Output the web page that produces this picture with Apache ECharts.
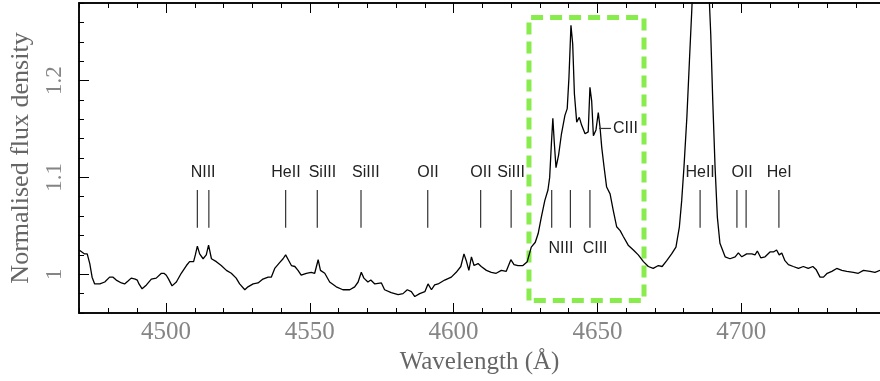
<!DOCTYPE html>
<html><head><meta charset="utf-8">
<script src="https://cdn.jsdelivr.net/npm/echarts@6/dist/echarts.min.js"></script>
<style>html,body{margin:0;padding:0;background:#fff}#c{width:880px;height:381px}</style>
</head><body><div id="c"></div>
<script>
const wavelength = [4469.8,4471.7,4472.6,4473.5,4474.3,4475.2,4475.8,4477.0,4478.7,4480.4,4481.6,4482.7,4484.5,4485.6,4486.8,4487.9,4489.3,4490.0,4490.6,4491.7,4493.2,4494.9,4496.6,4498.4,4499.3,4500.1,4500.9,4502.1,4503.6,4505.3,4507.1,4508.2,4509.6,4510.2,4510.9,4511.7,4512.9,4514.0,4514.8,4515.8,4517.5,4519.2,4521.0,4522.7,4524.4,4525.6,4527.4,4528.5,4530.3,4532.0,4533.7,4535.5,4536.6,4537.8,4539.5,4540.7,4541.6,4542.7,4543.6,4544.8,4545.9,4547.0,4548.8,4550.5,4551.7,4552.9,4553.7,4555.2,4556.9,4559.2,4561.5,4563.9,4565.6,4566.8,4567.9,4568.8,4570.2,4571.2,4572.6,4574.9,4576.0,4578.3,4580.7,4582.4,4583.9,4585.3,4586.5,4588.2,4590.0,4591.1,4592.3,4593.4,4594.6,4596.9,4599.2,4600.9,4602.5,4603.6,4604.4,4605.3,4606.2,4607.1,4608.5,4609.6,4611.4,4613.1,4614.8,4616.6,4618.3,4619.9,4621.0,4622.4,4624.1,4625.6,4627.0,4628.4,4629.4,4630.5,4631.7,4632.8,4633.4,4634.0,4634.5,4635.0,4635.6,4636.5,4637.5,4638.7,4639.5,4640.1,4640.8,4641.4,4642.0,4642.8,4643.7,4644.5,4645.7,4646.8,4647.4,4648.0,4648.6,4649.5,4650.3,4650.9,4651.5,4652.3,4653.2,4654.4,4655.5,4656.7,4657.9,4659.0,4660.7,4662.5,4664.2,4666.0,4667.7,4669.4,4671.2,4672.5,4674.1,4675.8,4677.3,4678.5,4679.3,4680.1,4681.1,4682.0,4682.8,4684.2,4685.7,4687.4,4688.9,4689.4,4690.1,4690.9,4691.7,4692.6,4694.4,4696.1,4697.9,4699.0,4700.2,4701.9,4703.7,4704.8,4705.6,4706.8,4708.3,4710.0,4711.2,4712.3,4713.2,4714.1,4715.2,4716.4,4718.1,4719.9,4721.6,4723.3,4724.9,4726.0,4727.4,4728.6,4729.9,4731.5,4733.2,4735.0,4736.7,4739.0,4740.7,4742.5,4744.8,4746.5,4748.3];
const flux = [1.025,1.021,1.021,1.011,0.997,0.990,0.988,0.990,0.992,0.997,0.997,0.994,0.991,0.990,0.993,0.996,0.995,0.994,0.990,0.985,0.989,0.995,0.996,1.001,1.001,0.999,0.995,0.988,0.992,1.001,1.009,1.013,1.013,1.020,1.029,1.021,1.016,1.020,1.030,1.016,1.013,1.009,1.004,1.001,0.996,0.990,0.984,0.987,0.990,0.991,0.995,0.997,0.997,1.006,1.012,1.016,1.020,1.014,1.009,1.008,1.004,0.999,1.001,1.002,1.001,1.015,1.004,1.001,0.992,0.987,0.984,0.984,0.987,0.992,1.002,0.996,0.992,0.994,0.990,0.991,0.984,0.981,0.979,0.980,0.984,0.982,0.977,0.980,0.982,0.990,0.984,0.989,0.990,0.994,0.997,1.002,1.008,1.021,1.014,1.004,1.018,1.009,1.011,1.008,1.004,1.002,1.001,1.004,1.003,1.015,1.010,1.009,1.009,1.013,1.028,1.033,1.042,1.059,1.076,1.087,1.100,1.135,1.161,1.136,1.110,1.123,1.145,1.164,1.171,1.203,1.257,1.238,1.186,1.157,1.162,1.154,1.145,1.147,1.193,1.179,1.143,1.149,1.167,1.152,1.131,1.111,1.090,1.083,1.066,1.049,1.045,1.039,1.030,1.025,1.020,1.013,1.008,1.006,1.009,1.008,1.014,1.021,1.028,1.049,1.076,1.111,1.162,1.221,1.272,1.37,1.42,1.37,1.283,1.248,1.179,1.111,1.059,1.032,1.018,1.016,1.018,1.022,1.018,1.021,1.021,1.020,1.024,1.017,1.018,1.023,1.023,1.025,1.020,1.022,1.014,1.010,1.008,1.006,1.008,1.006,1.008,1.005,0.997,0.997,1.001,1.003,1.006,1.004,1.003,1.002,1.001,1.004,1.003,1.002,1.004];

const xTickLabels = [4500, 4550, 4600, 4650, 4700];
const xMinorTicks = [4470,4480,4490,4510,4520,4530,4540,4560,4570,4580,4590,4610,4620,4630,4640,4660,4670,4680,4690,4710,4720,4730,4740];
const yTickLabels = [1, 1.1, 1.2];
const yMinorTicks = [0.96,0.98,1.02,1.04,1.06,1.08,1.12,1.14,1.16,1.18,1.22,1.24,1.26,1.28];

const lineWaves = [4510.9, 4514.9, 4541.6, 4552.6, 4567.8, 4591.0, 4609.4, 4620.0, 4634.1, 4640.6, 4647.4, 4685.7, 4698.5, 4701.7, 4713.1];
const lineTickFlux = [1.048, 1.087];
const upperLabels = ['NIII','HeII','SiIII','SiIII','OII','OII','SiIII','HeII','OII','HeI'];
const upperLabelWaves = [4512.9, 4541.7, 4554.4, 4569.5, 4591.1, 4609.5, 4620.0, 4685.7, 4700.3, 4713.2];
const upperLabelFlux = 1.105;
const lowerLabels = ['NIII','CIII'];
const lowerLabelWaves = [4637.3, 4649.2];
const lowerLabelFlux = 1.027;
const tagLabel = 'CIII';
const tagWaves = [4650.6, 4654.7];
const tagLabelWave = 4655.4;
const tagFlux = 1.1505;
const boxWaves = [4626.2, 4666.2];
const boxFlux = [0.973, 1.265];

const X_MIN = 4469.75, X_MAX = 4748.25, Y_MIN = 0.96, Y_MAX = 1.28;
const AXIS_COLOR = '#000';
const LABEL_COLOR = '#858585';
const SERIF = '"Liberation Serif", "DejaVu Serif", serif';
const SANS = '"Liberation Sans", Arial, sans-serif';

function xAx(pos, ticks, len, withLabels) {
  return {
    type: 'value', min: X_MIN, max: X_MAX, position: pos, gridIndex: 0,
    axisLine: { show: true, lineStyle: { color: AXIS_COLOR, width: 1.5 } },
    axisTick: { show: true, inside: true, length: len, customValues: ticks, lineStyle: { color: AXIS_COLOR, width: 1 } },
    axisLabel: withLabels ? { show: true, customValues: ticks, formatter: v => String(v), color: LABEL_COLOR, fontFamily: SERIF, fontSize: 25, margin: 7 } : { show: false },
    splitLine: { show: false }
  };
}
function yAx(ticks, len, withLabels) {
  return {
    type: 'value', min: Y_MIN, max: Y_MAX, position: 'left', gridIndex: 0,
    axisLine: { show: true, lineStyle: { color: AXIS_COLOR, width: 1.5 } },
    axisTick: { show: true, inside: true, length: len, customValues: ticks, lineStyle: { color: AXIS_COLOR, width: 1 } },
    axisLabel: withLabels ? { show: true, customValues: ticks, formatter: v => String(v), rotate: 90, color: LABEL_COLOR, fontFamily: SERIF, fontSize: 23, margin: 13 } : { show: false },
    splitLine: { show: false }
  };
}

const xAxes = [xAx('bottom', xTickLabels, 10, true), xAx('bottom', xMinorTicks, 5, false), xAx('top', xTickLabels, 10, false), xAx('top', xMinorTicks, 5, false)];
Object.assign(xAxes[0], { name: 'Wavelength (Å)', nameLocation: 'middle', nameGap: 34, nameTextStyle: { color: '#666', fontFamily: SERIF, fontSize: 25 } });
const yAxes = [yAx(yTickLabels, 10, true), yAx(yMinorTicks, 5, false)];
Object.assign(yAxes[0], { name: 'Normalised flux density', nameLocation: 'middle', nameGap: 45, nameTextStyle: { color: '#666', fontFamily: SERIF, fontSize: 26 } });

const spectrum = wavelength.map((w, i) => [w, flux[i]]);
const segs = lineWaves.map(w => [w, lineTickFlux[0], w, lineTickFlux[1]]);
segs.push([tagWaves[0], tagFlux, tagWaves[1], tagFlux]);
const texts = upperLabels.map((t, i) => [upperLabelWaves[i], upperLabelFlux, t, 'center'])
  .concat(lowerLabels.map((t, i) => [lowerLabelWaves[i], lowerLabelFlux, t, 'center']))
  .concat([[tagLabelWave, tagFlux, tagLabel, 'left']]);
const box = [[boxWaves[0], boxFlux[0]], [boxWaves[0], boxFlux[1]], [boxWaves[1], boxFlux[1]], [boxWaves[1], boxFlux[0]], [boxWaves[0], boxFlux[0]]];

const chart = echarts.init(document.getElementById('c'), null, { renderer: 'canvas' });
chart.setOption({
  animation: false,
  grid: { left: 79, right: 0, top: 3, bottom: 68, containLabel: false },
  xAxis: xAxes,
  yAxis: yAxes,
  series: [
    { type: 'line', data: spectrum, symbol: 'none', showSymbol: false, lineStyle: { color: '#000', width: 1.3 }, clip: true, z: 3 },
    { type: 'line', data: box, symbol: 'none', showSymbol: false, lineStyle: { color: '#88ec4c', width: 5, type: [12, 7] }, clip: false, z: 2 },
    { type: 'custom', data: segs, clip: false, encode: { x: [0, 2], y: [1, 3] }, z: 4,
      renderItem: (p, api) => {
        const a = api.coord([api.value(0), api.value(1)]);
        const b = api.coord([api.value(2), api.value(3)]);
        return { type: 'line', shape: { x1: a[0], y1: a[1], x2: b[0], y2: b[1] }, style: { stroke: '#333', lineWidth: 1.2 } };
      } },
    { type: 'custom', data: texts, clip: false, encode: { x: 0, y: 1 }, z: 5,
      renderItem: (p, api) => {
        const a = api.coord([api.value(0), api.value(1)]);
        const d = texts[p.dataIndex];
        return { type: 'text', x: a[0], y: a[1], style: { text: d[2], fill: '#222', font: '16px ' + SANS, align: d[3], verticalAlign: 'middle' } };
      } }
  ]
});
</script></body></html>
